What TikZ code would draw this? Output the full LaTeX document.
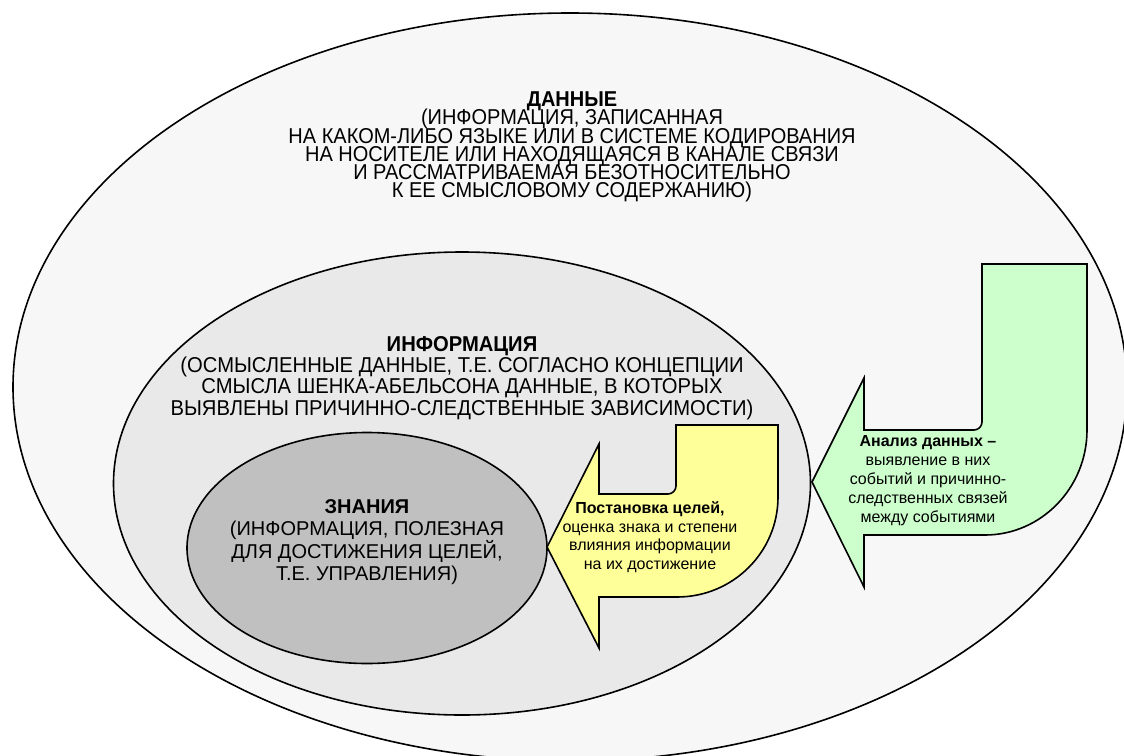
\documentclass[tikz,border=0pt]{standalone}
\usepackage{fontspec}
\setmainfont{Liberation Sans}
\newfontfamily\narrowA[FakeStretch=0.93]{Liberation Sans}
\newfontfamily\narrowB[FakeStretch=0.94]{Liberation Sans}
\newcommand\mytightlines{\setlength{\lineskiplimit}{-30pt}\setlength{\lineskip}{0pt}}
\usetikzlibrary{shapes.geometric}
\definecolor{outerfill}{HTML}{F7F7F7}
\definecolor{midfill}{HTML}{E9E9E9}
\definecolor{innerfill}{HTML}{C0C0C0}
\definecolor{greenfill}{HTML}{CCFFCC}
\definecolor{yellowfill}{HTML}{FFFF99}
\tikzset{
  ell/.style={ellipse, draw=black, line width=1.6pt, inner sep=0pt},
  bigtext/.style={align=center, inner sep=0pt, font=\narrowA\fontsize{21.5}{18.3}\selectfont\mytightlines},
  midtext/.style={align=center, inner sep=0pt, font=\narrowB\fontsize{21.5}{21.2}\selectfont\mytightlines},
  knowtext/.style={align=center, inner sep=0pt, font=\fontsize{20}{22.5}\selectfont},
  arrowtext/.style={align=center, inner sep=0pt, font=\fontsize{16}{19}\selectfont},
  bentarrow/.style={draw=black, line width=1.6pt, line join=miter}
}
\begin{document}
\begin{tikzpicture}[x=1pt,y=-1pt]
\useasboundingbox (0,0) rectangle (1124,755);
\fill[white] (0,0) rectangle (1124,755);
\clip (0,0) rectangle (1124,755);
% ellipses
\node[ell, fill=outerfill, minimum width=1114pt, minimum height=748pt] (dataE) at (570,387) {};
\node[ell, fill=midfill, minimum width=697pt, minimum height=463pt] (infoE) at (462,483.5) {};
\node[ell, fill=innerfill, minimum width=360pt, minimum height=231pt] (knowE) at (367,548) {};
% texts
\node[bigtext] (dataT) at (572,147) {\textbf{ДАННЫЕ}\\(ИНФОРМАЦИЯ, ЗАПИСАННАЯ\\НА КАКОМ-ЛИБО ЯЗЫКЕ ИЛИ В СИСТЕМЕ КОДИРОВАНИЯ\\НА НОСИТЕЛЕ ИЛИ НАХОДЯЩАЯСЯ В КАНАЛЕ СВЯЗИ\\И РАССМАТРИВАЕМАЯ БЕЗОТНОСИТЕЛЬНО\\К ЕЕ СМЫСЛОВОМУ СОДЕРЖАНИЮ)};
\node[midtext] (infoT) at (462,378) {\textbf{ИНФОРМАЦИЯ}\\(ОСМЫСЛЕННЫЕ ДАННЫЕ, Т.Е. СОГЛАСНО КОНЦЕПЦИИ\\СМЫСЛА ШЕНКА-АБЕЛЬСОНА ДАННЫЕ, В КОТОРЫХ\\ВЫЯВЛЕНЫ ПРИЧИННО-СЛЕДСТВЕННЫЕ ЗАВИСИМОСТИ)};
\node[knowtext] (knowT) at (367,542) {\textbf{ЗНАНИЯ}\\(ИНФОРМАЦИЯ, ПОЛЕЗНАЯ\\ДЛЯ ДОСТИЖЕНИЯ ЦЕЛЕЙ,\\Т.Е. УПРАВЛЕНИЯ)};
% green bent arrow
\path[bentarrow, fill=greenfill] (982,264) -- (1087,264) -- (1087,430)
  .. controls (1087,488) and (1041,535) .. (985,535)
  -- (864,535) -- (864,587) -- (812,482) -- (864,378) -- (864,430) -- (974,430)
  .. controls (978.4,430) and (982,426.4) .. (982,422) -- cycle;
% yellow bent arrow
\path[bentarrow, fill=yellowfill] (676,425) -- (778,425) -- (778,497)
  .. controls (778,552) and (733,597) .. (677,597)
  -- (599,597) -- (599,648) -- (547,547) -- (599,444) -- (599,494) -- (668,494)
  .. controls (672.4,494) and (676,490.4) .. (676,486) -- cycle;
\node[arrowtext] (greenT) at (928,481) {\textbf{Анализ данных –}\\выявление в них\\событий и причинно-\\следственных связей\\между событиями};
\node[arrowtext, font=\fontsize{16}{18.7}\selectfont] (yellowT) at (650,537) {\textbf{Постановка целей,}\\оценка знака и степени\\влияния информации\\на их достижение};
\end{tikzpicture}
\end{document}
